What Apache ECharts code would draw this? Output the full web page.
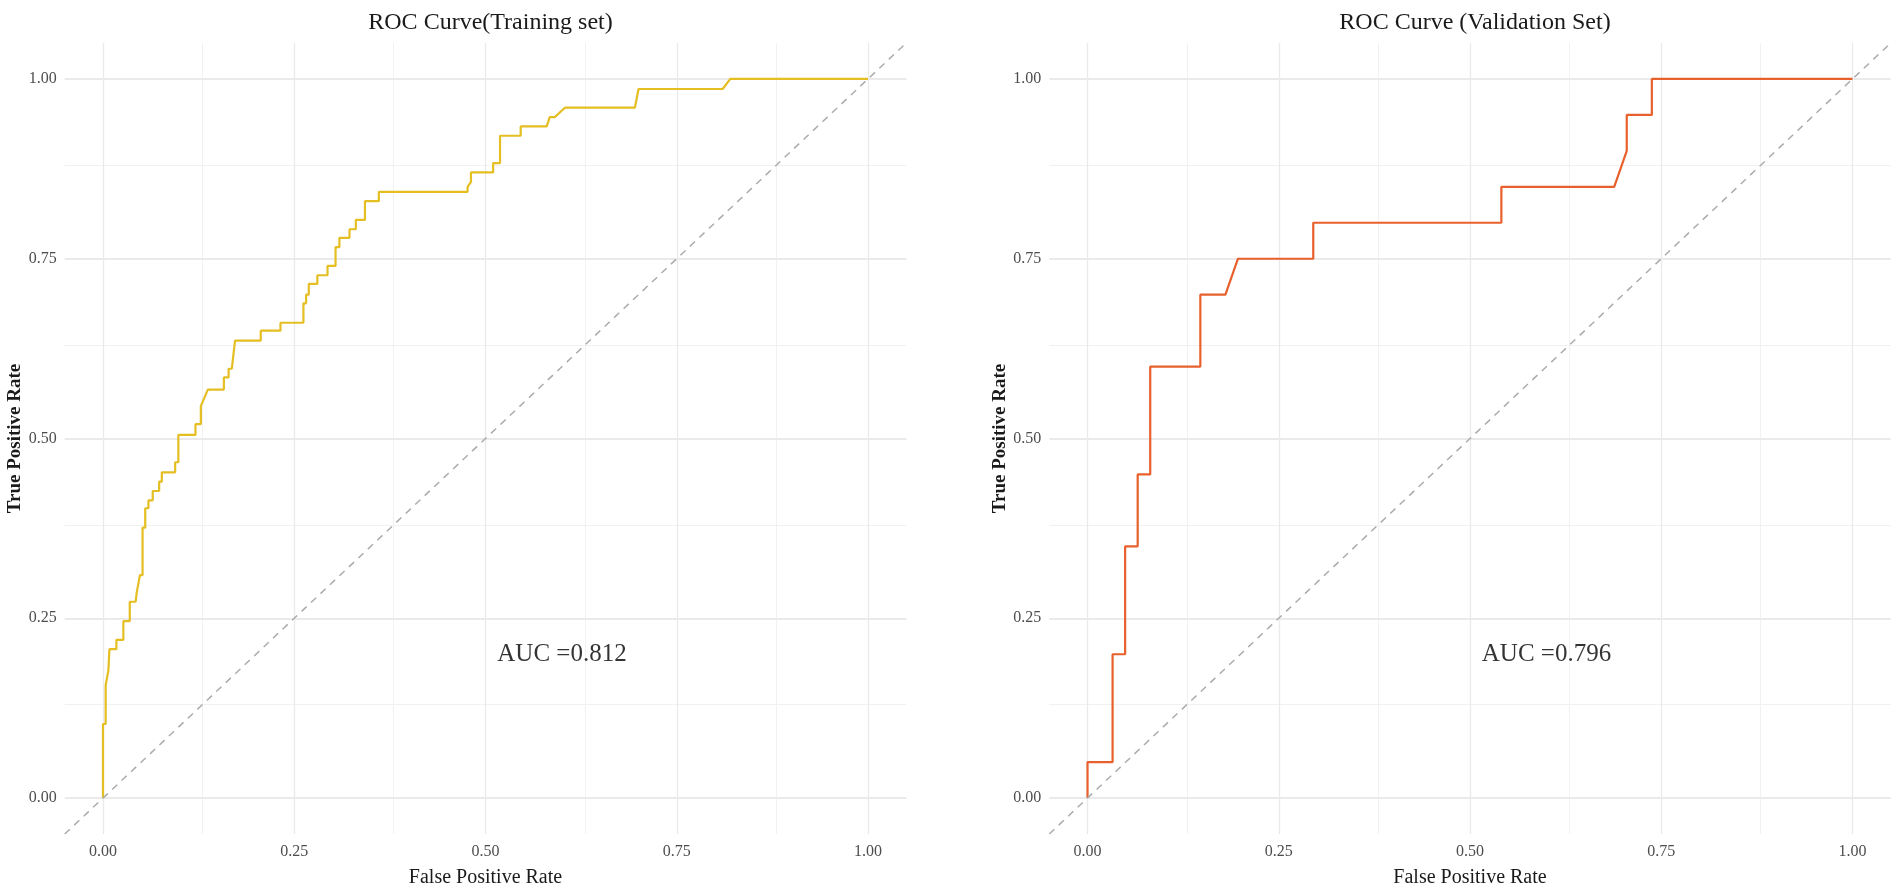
<!DOCTYPE html>
<html>
<head>
<meta charset="utf-8">
<title>ROC Curves</title>
<script src="https://cdn.jsdelivr.net/npm/echarts@6.0.0/dist/echarts.min.js"></script>
<style>
  html, body { margin: 0; padding: 0; background: #fff; }
  #main { width: 1901px; height: 893px; }
</style>
</head>
<body>
<div id="main"></div>
<script>
// ROC points (false positive rate, true positive rate)
const trainFpr = [0, 0, 0.0035, 0.0035, 0.007, 0.0084, 0.0175, 0.0175, 0.0266, 0.0266,
  0.035, 0.035, 0.0427, 0.0441, 0.0483, 0.0517, 0.0517, 0.0552, 0.0552, 0.0594,
  0.0594, 0.065, 0.065, 0.0734, 0.0734, 0.0769, 0.0769, 0.0943, 0.0943, 0.0985,
  0.0985, 0.1209, 0.1209, 0.1279, 0.1279, 0.137, 0.158, 0.158, 0.1642, 0.1642,
  0.1684, 0.1726, 0.2062, 0.2062, 0.232, 0.232, 0.262, 0.262, 0.2655, 0.2655,
  0.269, 0.269, 0.2802, 0.2802, 0.2935, 0.2935, 0.304, 0.304, 0.309, 0.309,
  0.3222, 0.3222, 0.3305, 0.3305, 0.3424, 0.3424, 0.3606, 0.3606, 0.4766, 0.4766,
  0.481, 0.481, 0.51, 0.51, 0.519, 0.519, 0.546, 0.546, 0.58, 0.584,
  0.5905, 0.6038, 0.6953, 0.7, 0.81, 0.82, 1];
const trainTpr = [0, 0.103, 0.103, 0.157, 0.177, 0.207, 0.207, 0.22, 0.22, 0.246,
  0.246, 0.273, 0.273, 0.286, 0.31, 0.31, 0.376, 0.376, 0.403, 0.403,
  0.414, 0.414, 0.427, 0.427, 0.44, 0.44, 0.453, 0.453, 0.467, 0.467,
  0.505, 0.505, 0.52, 0.52, 0.545, 0.568, 0.568, 0.585, 0.585, 0.597,
  0.597, 0.636, 0.636, 0.65, 0.65, 0.661, 0.661, 0.688, 0.688, 0.7,
  0.7, 0.715, 0.715, 0.727, 0.727, 0.74, 0.74, 0.766, 0.766, 0.779,
  0.779, 0.791, 0.791, 0.804, 0.804, 0.83, 0.83, 0.843, 0.843, 0.85,
  0.857, 0.87, 0.87, 0.883, 0.883, 0.921, 0.921, 0.934, 0.934, 0.947,
  0.947, 0.96, 0.96, 0.986, 0.986, 1, 1];

const valFpr = [0, 0, 0.0328, 0.0328, 0.0492, 0.0492, 0.0656, 0.0656, 0.082, 0.082,
  0.1475, 0.1475, 0.1803, 0.1967, 0.2951, 0.2951, 0.541, 0.541, 0.6885, 0.7049,
  0.7049, 0.7377, 0.7377, 1];
const valTpr = [0, 0.05, 0.05, 0.2, 0.2, 0.35, 0.35, 0.45, 0.45, 0.6,
  0.6, 0.7, 0.7, 0.75, 0.75, 0.8, 0.8, 0.85, 0.85, 0.9,
  0.95, 0.95, 1, 1];

const majorTicks = [0, 0.25, 0.5, 0.75, 1];
const minorTicks = [0.125, 0.375, 0.625, 0.875];
const diagLine = [-0.05, 1.05];

const titles = ['ROC Curve(Training set)', 'ROC Curve (Validation Set)'];
const aucText = ['AUC =0.812', 'AUC =0.796'];
const lineColors = ['#E5BE22', '#E8602C'];

const FONT = '"Liberation Serif", "DejaVu Serif", serif';
const chart = echarts.init(document.getElementById('main'));

function pairs(xs, ys) {
    return xs.map((x, i) => [x, ys[i]]);
}

// gridlines of a ggplot panel (they run across the expanded range)
function gridMarks() {
    const minor = { color: '#F1F1F1', width: 1, type: 'solid' };
    return [
        ...minorTicks.map((v) => ({ xAxis: v, lineStyle: minor })),
        ...minorTicks.map((v) => ({ yAxis: v, lineStyle: minor })),
        ...majorTicks.map((v) => ({ xAxis: v, lineStyle: { color: '#EAEAEA', width: 1.3, type: 'solid' } })),
        ...majorTicks.map((v) => ({ yAxis: v, lineStyle: { color: '#EAEAEA', width: 2, type: 'solid' } }))
    ];
}

const panelLeft = [64.75, 1049.25];
const grids = panelLeft.map((l) => ({ left: l, width: 841.5, top: 43, height: 791 }));

const tickLabel = {
    customValues: majorTicks,
    formatter: (v) => v.toFixed(2),
    fontFamily: FONT,
    fontSize: 16,
    color: '#4D4D4D'
};

const xAxes = [0, 1].map((i) => ({
    type: 'value',
    gridIndex: i,
    min: -0.05,
    max: 1.05,
    splitLine: { show: false },
    axisLine: { show: false },
    axisTick: { show: false },
    axisLabel: { ...tickLabel, margin: 10 },
    name: 'False Positive Rate',
    nameLocation: 'middle',
    nameGap: 34,
    nameTextStyle: { fontFamily: FONT, fontSize: 20, color: '#1A1A1A' }
}));

const yAxes = [0, 1].map((i) => ({
    type: 'value',
    gridIndex: i,
    min: -0.05,
    max: 1.05,
    splitLine: { show: false },
    axisLine: { show: false },
    axisTick: { show: false },
    axisLabel: { ...tickLabel, margin: 8 },
    name: 'True Positive Rate',
    nameLocation: 'middle',
    nameGap: 39,
    nameTextStyle: { fontFamily: FONT, fontSize: 19, fontWeight: 'bold', color: '#1A1A1A' }
}));

const rocData = [pairs(trainFpr, trainTpr), pairs(valFpr, valTpr)];
const series = [];
[0, 1].forEach((i) => {
    series.push({
        type: 'line',
        xAxisIndex: i,
        yAxisIndex: i,
        data: [],
        z: 1,
        silent: true,
        markLine: {
            z: 1,
            silent: true,
            symbol: ['none', 'none'],
            label: { show: false },
            animation: false,
            data: gridMarks()
        }
    });
    series.push({
        type: 'line',
        xAxisIndex: i,
        yAxisIndex: i,
        data: rocData[i],
        showSymbol: false,
        z: 3,
        lineStyle: { color: lineColors[i], width: 2.2 }
    });
    series.push({
        type: 'line',
        xAxisIndex: i,
        yAxisIndex: i,
        data: diagLine.map((v) => [v, v]),
        showSymbol: false,
        z: 4,
        lineStyle: { color: '#ABABAB', width: 1.5, type: [7, 6] }
    });
    series.push({
        type: 'scatter',
        xAxisIndex: i,
        yAxisIndex: i,
        data: [[0.6, 0.2]],
        symbolSize: 0,
        z: 5,
        label: {
            show: true,
            position: 'inside',
            formatter: aucText[i],
            fontFamily: FONT,
            fontSize: 25,
            color: '#000'
        }
    });
});

chart.setOption({
    animation: false,
    backgroundColor: '#fff',
    title: titles.map((t, i) => ({
        text: t,
        left: panelLeft[i] + 420.75,
        top: 6,
        textAlign: 'center',
        textStyle: { fontFamily: FONT, fontSize: 24, fontWeight: 'normal', color: '#1A1A1A' }
    })),
    grid: grids,
    xAxis: xAxes,
    yAxis: yAxes,
    series: series
});
</script>
</body>
</html>
